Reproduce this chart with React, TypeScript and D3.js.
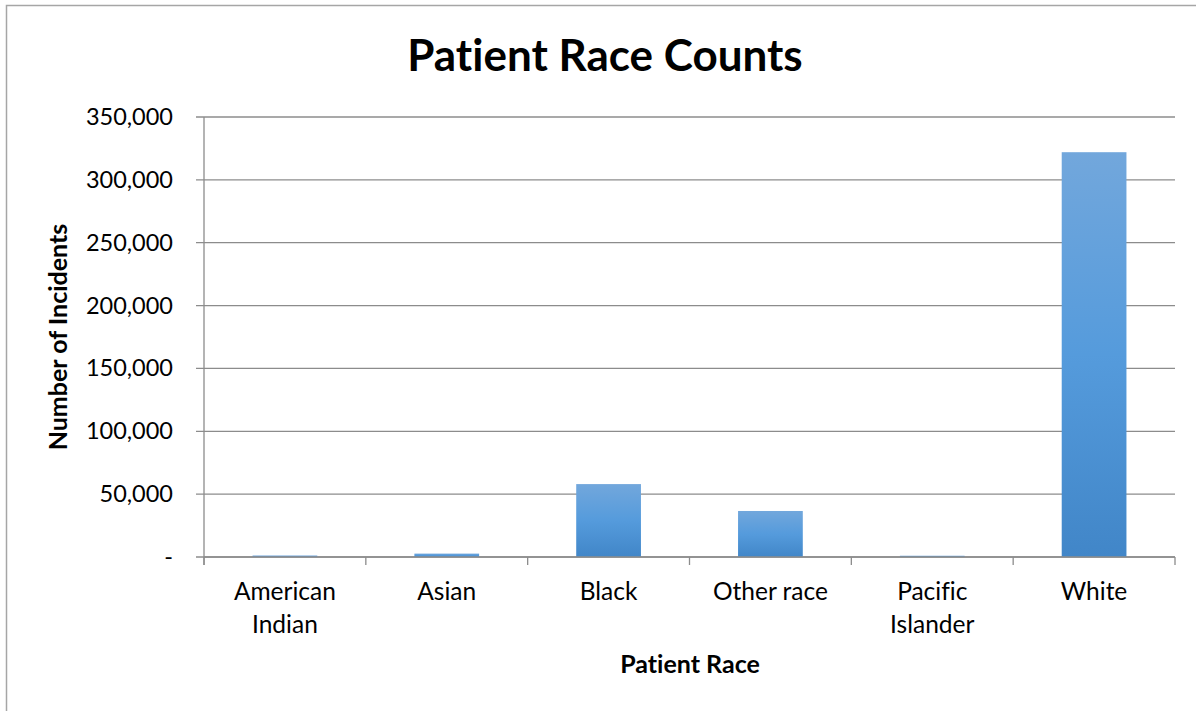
import * as d3 from "d3";

const categories = ["American Indian", "Asian", "Black", "Other race", "Pacific Islander", "White"];
const counts = [1200, 2700, 58000, 36600, 1000, 322000];
const yTicks = [0, 50000, 100000, 150000, 200000, 250000, 300000, 350000];

const width = 1196;
const height = 711;
const margin = { left: 204, right: 21, top: 117, bottom: 154 };
const font = "Lato, 'Open Sans', sans-serif";

const fmt = (v: number) => (v === 0 ? "-" : d3.format(",")(v));

const App = () => {
  const x = d3
    .scaleBand<string>()
    .domain(categories)
    .range([margin.left, width - margin.right])
    .paddingInner(0.6)
    .paddingOuter(0.3);
  const y = d3
    .scaleLinear()
    .domain([0, 350000])
    .range([height - margin.bottom, margin.top]);

  const step = x.step();
  const x0 = margin.left;
  const x1 = width - margin.right;
  const y0 = y(0);

  return (
    <svg
      width={width}
      height={height}
      style={{
        position: "absolute",
        left: 0,
        top: 0,
        display: "block",
        background: "#fff",
        fontVariantLigatures: "none",
      }}
      fontFamily={font}
    >
      <defs>
        <linearGradient id="barFill" x1="0" y1="0" x2="0" y2="1">
          <stop offset="0%" stopColor="#72a7dc" />
          <stop offset="50%" stopColor="#559bdc" />
          <stop offset="100%" stopColor="#4186c8" />
        </linearGradient>
      </defs>

      {/* chart border */}
      <rect x={6.5} y={5.5} width={1400} height={900} fill="none" stroke="#a6a6a6" strokeWidth={1.5} />

      {/* title */}
      <text x={605} y={71} textAnchor="middle" fontSize={44} fontWeight="bold" fill="#000">
        Patient Race Counts
      </text>

      {/* gridlines + y ticks */}
      {yTicks.map((t) => (
        <g key={t}>
          <line x1={x0 - 8} x2={x1} y1={y(t)} y2={y(t)} stroke="#8c8c8c" strokeWidth={1.3} />
          <text x={173} y={y(t) + 8} textAnchor="end" fontSize={23.5} fill="#000">
            {fmt(t)}
          </text>
        </g>
      ))}

      {/* y axis line */}
      <line x1={x0} x2={x0} y1={margin.top} y2={y0 + 8} stroke="#8c8c8c" strokeWidth={1.3} />

      {/* bars */}
      {categories.map((c, i) => (
        <rect
          key={c}
          x={x(c)}
          y={y(counts[i])}
          width={x.bandwidth()}
          height={y0 - y(counts[i])}
          fill="url(#barFill)"
        />
      ))}

      {/* x axis ticks */}
      {d3.range(categories.length + 1).map((i) => (
        <line
          key={i}
          x1={x0 + i * step}
          x2={x0 + i * step}
          y1={y0}
          y2={y0 + 8}
          stroke="#8c8c8c"
          strokeWidth={1.3}
        />
      ))}
      <line x1={x0} x2={x1} y1={y0} y2={y0} stroke="#8c8c8c" strokeWidth={1.3} />

      {/* category labels */}
      {categories.map((c) => {
        const words = c === "Other race" ? [c] : c.split(" ");
        const cx = (x(c) ?? 0) + x.bandwidth() / 2;
        return (
          <text key={c} x={cx} y={600} textAnchor="middle" fontSize={24.5} fill="#000">
            {words.map((w, j) => (
              <tspan key={j} x={cx} dy={j === 0 ? 0 : 33}>
                {w}
              </tspan>
            ))}
          </text>
        );
      })}

      {/* axis titles */}
      <text x={690} y={673} textAnchor="middle" fontSize={25} fontWeight="bold" fill="#000">
        Patient Race
      </text>
      <text
        transform={`translate(67, 337) rotate(-90)`}
        textAnchor="middle"
        fontSize={25}
        fontWeight="bold"
        fill="#000"
      >
        Number of Incidents
      </text>
    </svg>
  );
};

export default App;
